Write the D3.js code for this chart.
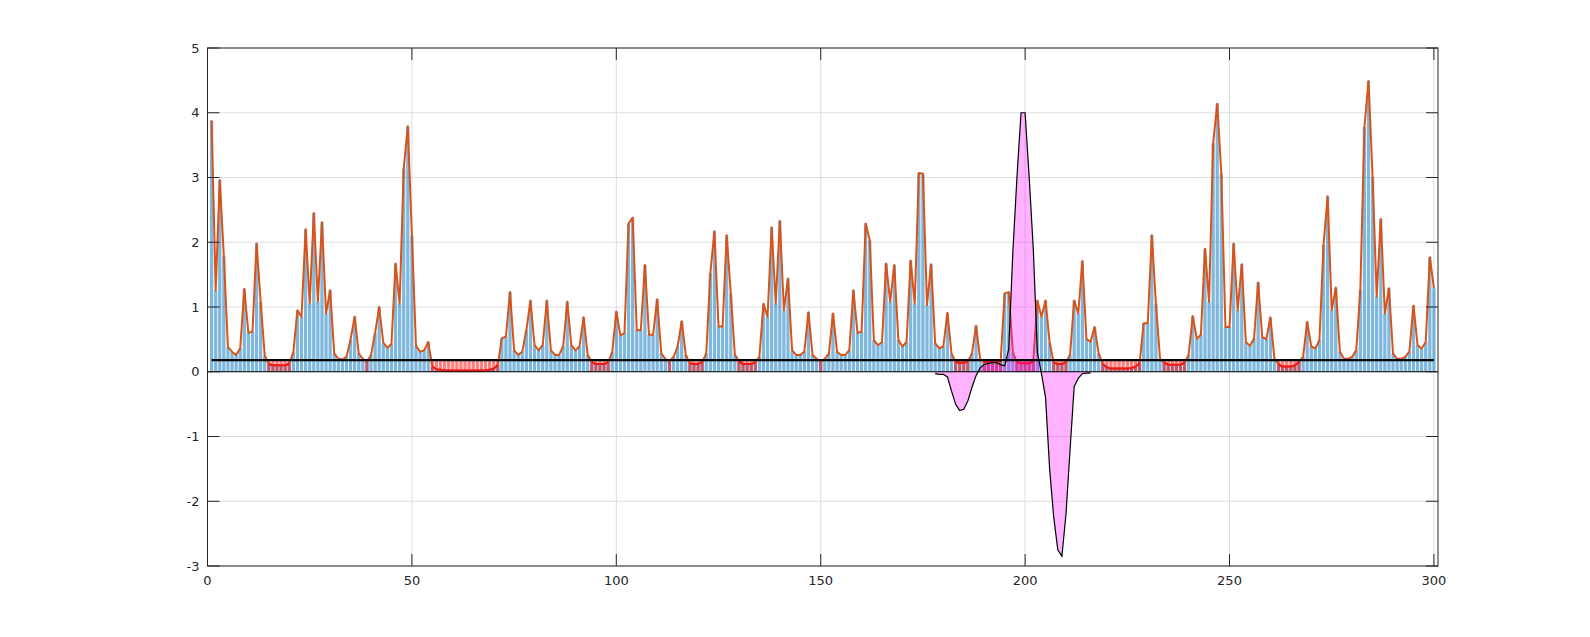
<!DOCTYPE html>
<html><head><meta charset="utf-8">
<script src="https://cdn.jsdelivr.net/npm/d3@7"></script>
<style>html,body{margin:0;padding:0;background:#fff;}svg{display:block;}</style>
</head><body>
<svg id="chart" width="1590" height="637"></svg>
<script>
// ---- data ----
const values = [
3.88,1.26,2.96,1.78,0.38,0.31,0.26,0.36,1.28,0.60,
0.62,1.98,1.08,0.25,0.12,0.10,0.10,0.10,0.10,0.13,
0.30,0.95,0.85,2.20,1.05,2.45,1.08,2.31,0.90,1.26,
0.28,0.20,0.19,0.23,0.50,0.85,0.28,0.20,0.15,0.26,
0.60,1.00,0.45,0.37,0.43,1.67,1.05,3.14,3.79,2.10,
0.40,0.31,0.33,0.46,0.08,0.04,0.03,0.02,0.02,0.02,
0.02,0.02,0.02,0.02,0.02,0.02,0.02,0.02,0.03,0.05,
0.10,0.52,0.54,1.23,0.33,0.26,0.31,0.64,1.10,0.41,
0.33,0.41,1.10,0.33,0.26,0.26,0.39,1.08,0.41,0.33,
0.39,0.84,0.26,0.15,0.12,0.12,0.12,0.15,0.30,0.93,
0.56,0.60,2.29,2.38,0.64,0.64,1.65,0.57,0.57,1.12,
0.28,0.20,0.16,0.23,0.39,0.78,0.26,0.13,0.12,0.12,
0.15,0.28,1.52,2.17,0.70,0.70,2.11,1.21,0.26,0.17,
0.12,0.12,0.12,0.15,0.23,1.05,0.85,2.23,1.05,2.33,
0.95,1.44,0.33,0.26,0.26,0.31,0.92,0.26,0.20,0.16,
0.20,0.28,0.90,0.31,0.26,0.26,0.33,1.26,0.60,0.62,
2.29,2.03,0.49,0.41,0.46,1.67,1.08,1.65,0.49,0.39,
0.46,1.72,1.05,3.07,3.06,1.03,1.66,0.44,0.36,0.39,
0.91,0.28,0.15,0.14,0.14,0.16,0.28,0.71,0.20,0.15,
0.16,0.17,0.17,0.15,1.21,1.23,0.30,0.15,0.13,0.13,
0.13,0.16,1.10,0.85,1.10,0.45,0.14,0.12,0.12,0.15,
0.26,1.10,0.90,1.71,0.51,0.46,0.69,0.28,0.12,0.07,
0.05,0.05,0.05,0.05,0.05,0.06,0.08,0.13,0.75,0.75,
2.11,1.05,0.20,0.14,0.11,0.11,0.11,0.11,0.14,0.26,
0.86,0.51,0.57,1.90,1.08,3.53,4.14,3.06,0.69,0.69,
1.98,0.95,1.66,0.46,0.40,0.51,1.38,0.54,0.50,0.84,
0.20,0.12,0.08,0.08,0.08,0.10,0.15,0.23,0.77,0.39,
0.36,0.49,1.96,2.71,0.95,1.30,0.31,0.20,0.20,0.23,
0.33,1.26,3.78,4.49,3.01,1.16,2.36,0.90,1.29,0.28,
0.20,0.20,0.23,0.31,1.02,0.41,0.36,0.46,1.77,1.29
];
const threshold = 0.18;
const pinkStart = 178;
const pinkValues = [
-0.03,-0.04,-0.04,-0.08,-0.30,-0.50,-0.60,-0.58,-0.45,-0.24,
-0.06,0.06,0.11,0.13,0.14,0.14,0.11,0.09,0.35,1.85,
3.00,4.00,4.00,3.00,1.90,0.30,-0.03,-0.40,-1.50,-2.25,
-2.75,-2.85,-2.20,-1.20,-0.23,-0.10,-0.03,-0.02,-0.02
];
const xTicks = [0,50,100,150,200,250,300];
const yTicks = [-3,-2,-1,0,1,2,3,4,5];

// ---- layout ----
const L = 207.5, R = 1438, T = 48, B = 566;
const svg = d3.select("#chart");
const x = d3.scaleLinear().domain([0,301]).range([L,R]);
const y = d3.scaleLinear().domain([-3,5]).range([B,T]);
const bars = values.map((v,i)=>({x:i+1, v:v}));
const pink = pinkValues.map((v,i)=>({x:pinkStart+i, v:v}));
const bw = x(0.8)-x(0);

// grid
const g = svg.append("g");
g.selectAll("line.gx").data(xTicks).enter().append("line")
  .attr("x1",d=>x(d)).attr("x2",d=>x(d)).attr("y1",T).attr("y2",B)
  .attr("stroke","#dedede").attr("stroke-width",1);
g.selectAll("line.gy").data(yTicks).enter().append("line")
  .attr("x1",L).attr("x2",R).attr("y1",d=>y(d)).attr("y2",d=>y(d))
  .attr("stroke","#dedede").attr("stroke-width",1);

// blue bars
svg.append("g").selectAll("rect").data(bars).enter().append("rect")
  .attr("x",d=>x(d.x)-bw/2).attr("width",bw)
  .attr("y",d=>y(d.v)).attr("height",d=>y(0)-y(d.v))
  .attr("fill","#0072BD").attr("fill-opacity",0.5);

// red bars (below threshold)
svg.append("g").selectAll("rect").data(bars.filter(d=>d.v<threshold)).enter().append("rect")
  .attr("x",d=>x(d.x)-bw/2).attr("width",bw)
  .attr("y",y(threshold)).attr("height",y(0)-y(threshold))
  .attr("fill","#FF0000").attr("fill-opacity",0.5);

// orange line
const line = d3.line().x(d=>x(d.x)).y(d=>y(d.v));
svg.append("path").datum(bars).attr("d",line)
  .attr("fill","none").attr("stroke","#D95319").attr("stroke-width",2)
  .attr("stroke-linejoin","round");

// red line segments for runs below threshold
const runs = [];
let cur = null;
bars.forEach(d=>{
  if(d.v<threshold){ if(!cur){cur=[];runs.push(cur);} cur.push(d);} else cur=null;
});
const smooth = d3.line().x(d=>x(d.x)).y(d=>y(d.v)).curve(d3.curveMonotoneX);
svg.append("g").selectAll("path").data(runs.filter(r=>r.length>1)).enter().append("path")
  .attr("d",smooth).attr("fill","none").attr("stroke","#F01818").attr("stroke-width",2);

// pink area
const area = d3.area().x(d=>x(d.x)).y0(y(0)).y1(d=>y(d.v));
svg.append("path").datum(pink).attr("d",area)
  .attr("fill","#FF00FF").attr("fill-opacity",0.3).attr("stroke","none");
svg.append("path").datum(pink).attr("d",d3.line().x(d=>x(d.x)).y(d=>y(d.v)))
  .attr("fill","none").attr("stroke","#000").attr("stroke-width",1.2);

// threshold line
svg.append("line").attr("x1",x(1)).attr("x2",x(300))
  .attr("y1",y(threshold)).attr("y2",y(threshold))
  .attr("stroke","#000").attr("stroke-width",2.2);
// baseline
svg.append("line").attr("x1",L).attr("x2",R).attr("y1",y(0)).attr("y2",y(0))
  .attr("stroke","#000").attr("stroke-width",1);

// axes box & ticks
const ax = svg.append("g").attr("stroke","#262626").attr("stroke-width",1);
ax.append("rect").attr("x",L).attr("y",T).attr("width",R-L).attr("height",B-T).attr("fill","none");
const tl = 12;
xTicks.forEach(t=>{
  ax.append("line").attr("x1",x(t)).attr("x2",x(t)).attr("y1",B).attr("y2",B-tl);
  ax.append("line").attr("x1",x(t)).attr("x2",x(t)).attr("y1",T).attr("y2",T+tl);
});
yTicks.forEach(t=>{
  ax.append("line").attr("x1",L).attr("x2",L+tl).attr("y1",y(t)).attr("y2",y(t));
  ax.append("line").attr("x1",R).attr("x2",R-tl).attr("y1",y(t)).attr("y2",y(t));
});
const txt = svg.append("g").attr("font-family","DejaVu Sans, sans-serif").attr("font-size",13).attr("fill","#262626");
xTicks.forEach(t=>{
  txt.append("text").attr("x",x(t)).attr("y",B+14).attr("text-anchor","middle")
    .attr("dominant-baseline","central").text(t);
});
yTicks.forEach(t=>{
  txt.append("text").attr("x",L-8).attr("y",y(t)).attr("text-anchor","end")
    .attr("dominant-baseline","central").text(t);
});
</script>
</body></html>
